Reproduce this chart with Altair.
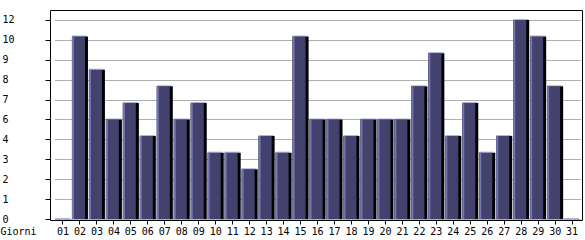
import altair as alt
import pandas as pd

days = [f"{i:02d}" for i in range(1, 32)]
visits = [0, 11, 9, 6, 7, 5, 8, 6, 7, 4, 4, 3, 5, 4, 11, 6, 6, 5, 6, 6, 6,
          8, 10, 5, 7, 4, 5, 12, 11, 8, 0]
y_tick_values = [0, 1.2, 2.4, 3.6, 4.8, 6, 7.2, 8.4, 9.6, 10.8, 12]
y_tick_labels = ["0", "1", "2", "3", "4", "6", "7", "8", "9", "10", "12"]

df = pd.DataFrame({"giorno": days, "valore": visits})

FONT = "DejaVu Sans Mono"
label_expr = (
    "[" + ",".join(f"'{l}'" for l in y_tick_labels) + "]"
    "[indexof([" + ",".join(str(v) for v in y_tick_values) + "], datum.value)]"
)

x_enc = alt.X(
    "giorno:N",
    sort=None,
    scale=alt.Scale(range=[4.5, 530.6], paddingInner=0, paddingOuter=0),
    axis=alt.Axis(
        title="Giorni", labelAngle=0, domain=False, grid=False,
        tickColor="black", tickSize=4, labelPadding=10,
        labelBaseline="alphabetic", bandPosition=0.5,
        labelFont=FONT, labelFontSize=10, labelColor="black",
        labelOverlap=False, labelFlush=False,
        titleX=-50, titleY=14, titleAlign="left", titleBaseline="alphabetic",
        titleFont=FONT, titleFontSize=10, titleFontWeight="normal",
        titleColor="black",
    ),
)
y_enc = alt.Y(
    "valore:Q",
    scale=alt.Scale(domain=[-0.06, 12.6], nice=False, zero=False),
    axis=alt.Axis(
        title=None, values=y_tick_values, labelExpr=label_expr,
        domain=False, grid=True, gridColor="#b0b0b0", gridWidth=1,
        tickColor="black", tickSize=5, labelPadding=43, labelAlign="left",
        labelBaseline="middle", labelFont=FONT, labelFontSize=10,
        labelColor="black",
    ),
)

base = alt.Chart(df)
shadow = base.mark_bar(color="black", size=16).encode(x=x_enc, y=y_enc)
body = base.mark_bar(color="#42426c", size=13, xOffset=-1.5).encode(x=x_enc, y=y_enc)
edge = base.mark_bar(color="#7474b6", size=2, xOffset=-7).encode(x=x_enc, y=y_enc)
top = base.mark_tick(color="#8c8cc8", thickness=1, size=15, xOffset=-0.5,
                     yOffset=-0.5).encode(x=x_enc, y=y_enc)

chart = (
    alt.layer(shadow, body, edge, top)
    .properties(
        width=532, height=210,
        autosize=alt.AutoSizeParams(type="none"),
        padding={"left": 50, "top": 10, "right": 3, "bottom": 20},
        background="white",
    )
    .configure_view(stroke="black", strokeWidth=1)
)

chart.save("out.html", embed_options={"renderer": "svg", "actions": False})
